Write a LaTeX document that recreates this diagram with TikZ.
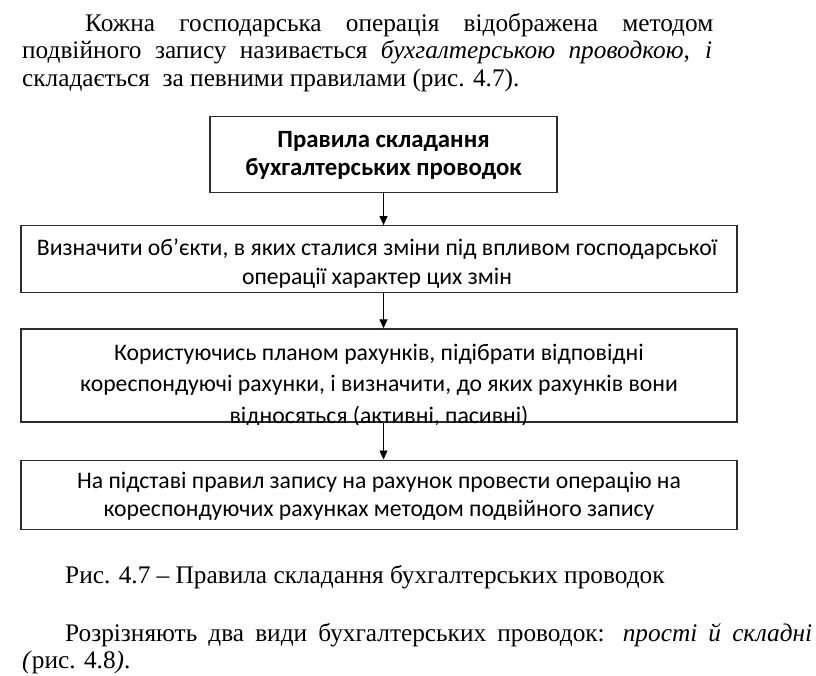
\documentclass[tikz,border=0pt]{standalone}
\usepackage{fontspec}
\setmainfont{Liberation Serif}
\newfontfamily\boxfont{Carlito}
\usetikzlibrary{arrows.meta, positioning}
\definecolor{rulegray}{RGB}{45, 45, 45}

\begin{document}
\begin{tikzpicture}[
  x=1pt, y=-1pt,
  stepbox/.style={rectangle, draw=rulegray, line width=1.2pt, inner sep=0pt},
  steptext/.style={anchor=base, inner sep=0pt, align=center,
              font=\boxfont\fontsize{23.7}{29}\selectfont},
  textline/.style={anchor=base west, inner sep=0pt, font=\fontsize{25.3}{29}\selectfont},
  arrow/.style={-{Triangle[length=9pt, width=8pt]}, line width=0.9pt, color=black},
]
  \useasboundingbox (0,0) rectangle (816,676);

  % paragraph before the figure
  \node[textline] (par1) at (85,32) {\makebox[628pt][s]{Кожна господарська операція відображена методом}};
  \node[textline] (par2) at (22,59) {\makebox[690pt][s]{подвійного запису називається \textit{бухгалтерською проводкою}, \textit{і}}};
  \node[textline] (par3) at (22,87) {складається\ \ за певними правилами (рис. 4.7).};

  % the figure
  \node[stepbox, minimum width=347pt, minimum height=76pt] (rules) at (383.5,154.5) {};
  \node[stepbox, minimum width=716pt, minimum height=67pt, below=32pt of rules, xshift=-4.5pt] (objects) {};
  \node[stepbox, minimum width=716pt, minimum height=93pt, below=35pt of objects] (plan) {};
  \node[stepbox, minimum width=716pt, minimum height=69pt, below=37pt of plan] (posting) {};

  % texts of the boxes (anchor base = last line)
  \node[steptext, font=\boxfont\bfseries\fontsize{24.8}{28}\selectfont] (rulestext) at ([yshift=-60pt]rules.north)
    {Правила складання\\бухгалтерських проводок};
  \node[steptext, xshift=-2pt] (objectstext) at ([yshift=-59pt]objects.north)
    {Визначити об’єкти, в яких сталися зміни під впливом господарської\\операції характер цих змін};
  \begin{scope}
    \clip ([yshift=-1.5pt]plan.south west) rectangle (plan.north east);
    \node[steptext, font=\boxfont\fontsize{23.7}{31.5}\selectfont] (plantext) at ([yshift=-95pt]plan.north)
      {Користуючись планом рахунків, підібрати відповідні\\кореспондуючі рахунки, і визначити, до яких рахунків вони\\відносяться (активні, пасивні)};
  \end{scope}
  \node[steptext, font=\boxfont\fontsize{23.7}{28}\selectfont] (postingtext) at ([yshift=-57pt]posting.north)
    {На підставі правил запису на рахунок провести операцію на\\кореспондуючих рахунках методом подвійного запису};

  \draw[arrow] (rules.south) -- (rules.south |- objects.north);
  \draw[arrow] (rules.south |- objects.south) -- (rules.south |- plan.north);
  \draw[arrow] (rules.south |- plan.south) -- (rules.south |- posting.north);

  % caption and the text after it
  \node[textline] (caption) at (65,583) {Рис. 4.7 -- Правила складання бухгалтерських проводок};
  \node[textline] (par4) at (65,641) {\makebox[747pt][s]{Розрізняють два види бухгалтерських проводок: \textit{прості й складні}}};
  \node[textline] (par5) at (22,668) {\textit{(}рис. 4.8\textit{)}.};
\end{tikzpicture}
\end{document}
